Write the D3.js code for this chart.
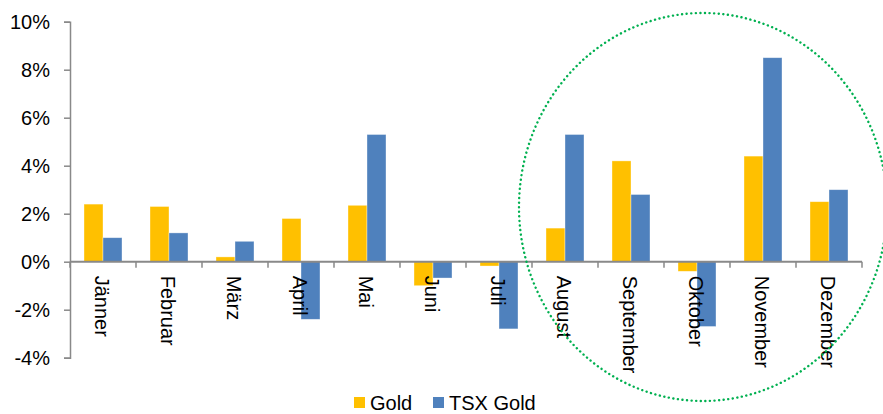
<!DOCTYPE html>
<html>
<head>
<meta charset="utf-8">
<script src="https://cdn.jsdelivr.net/npm/d3@7"></script>
<style>
body{margin:0;background:#fff;}
svg text{font-family:"Liberation Sans",Arial,sans-serif;fill:#000;}
</style>
</head>
<body>
<svg id="chart" width="883" height="414"></svg>
<script>
var months=["Jänner","Februar","März","April","Mai","Juni","Juli","August","September","Oktober","November","Dezember"];
var gold=[2.4,2.3,0.2,1.8,2.35,-1.0,-0.18,1.4,4.2,-0.4,4.4,2.5];
var tsxGold=[1.0,1.2,0.85,-2.4,5.3,-0.68,-2.8,5.3,2.8,-2.7,8.5,3.0];
var seriesNames=["Gold","TSX Gold"];
var colors=["#FFC000","#4F81BD"];
var yTicks=[-4,-2,0,2,4,6,8,10];

var svg=d3.select("#chart");
var plotLeft=70,plotRight=862,plotTop=21.7,plotBottom=357.7;

var x=d3.scaleBand().domain(months).range([plotLeft,plotRight]);
var xs=d3.scaleBand().domain(seriesNames).range([0,38]);
var y=d3.scaleLinear().domain([-4,10]).range([plotBottom,plotTop]);

// y axis
var yAxis=svg.append("g").attr("transform","translate("+plotLeft+",0)")
    .call(d3.axisLeft(y).tickValues(yTicks).tickSize(6).tickPadding(14).tickFormat(function(d){return d+"%"}));
yAxis.selectAll("path,line").attr("stroke","#898989").attr("stroke-width",1.5);
yAxis.selectAll("text").style("font-size","20px").attr("dy","0.35em");

// bars
var data=months.map(function(m,i){return {m:m,vals:[gold[i],tsxGold[i]]}});
var groups=svg.append("g").selectAll("g").data(data).join("g")
    .attr("transform",function(d){return "translate("+(x(d.m)+(x.bandwidth()-38)/2)+",0)"});
groups.selectAll("rect").data(function(d){return d.vals.map(function(v,j){return {s:seriesNames[j],v:v,c:colors[j]}})})
    .join("rect")
    .attr("x",function(d){return xs(d.s)})
    .attr("width",xs.bandwidth())
    .attr("y",function(d){return y(Math.max(0,d.v))})
    .attr("height",function(d){return Math.abs(y(d.v)-y(0))})
    .attr("fill",function(d){return d.c})
    .attr("stroke","#fff").attr("stroke-opacity",0.5).attr("stroke-width",0.7);

// x axis (zero line)
var xAxis=svg.append("g").attr("transform","translate(0,"+y(0)+")");
xAxis.append("line").attr("x1",plotLeft).attr("x2",plotRight).attr("stroke","#898989").attr("stroke-width",2);
var tickPos=months.map(function(m){return x(m)}).concat([plotRight]);
xAxis.selectAll(".tk").data(tickPos).join("line").attr("class","tk")
    .attr("x1",function(d){return d}).attr("x2",function(d){return d})
    .attr("y1",0).attr("y2",6).attr("stroke","#898989").attr("stroke-width",1.5);
xAxis.selectAll(".lbl").data(months).join("text").attr("class","lbl")
    .attr("transform",function(d){return "translate("+(x(d)+x.bandwidth()/2-1)+",14) rotate(90)"})
    .attr("dy","0.35em")
    .style("font-size","20px")
    .text(function(d){return d});

// green dotted ellipse
svg.append("ellipse").attr("cx",703).attr("cy",207).attr("rx",184).attr("ry",194)
    .attr("fill","none").attr("stroke","#00B050").attr("stroke-width",2.4)
    .attr("stroke-dasharray","0.1,4.5").attr("stroke-linecap","round");

// legend
var legend=svg.append("g").attr("transform","translate(354,397)");
var lx=[0,79];
seriesNames.forEach(function(n,i){
    legend.append("rect").attr("x",lx[i]).attr("y",0).attr("width",11).attr("height",11).attr("fill",colors[i]);
    legend.append("text").attr("x",lx[i]+16).attr("y",12.5).style("font-size","20px").text(n);
});
</script>
</body>
</html>
